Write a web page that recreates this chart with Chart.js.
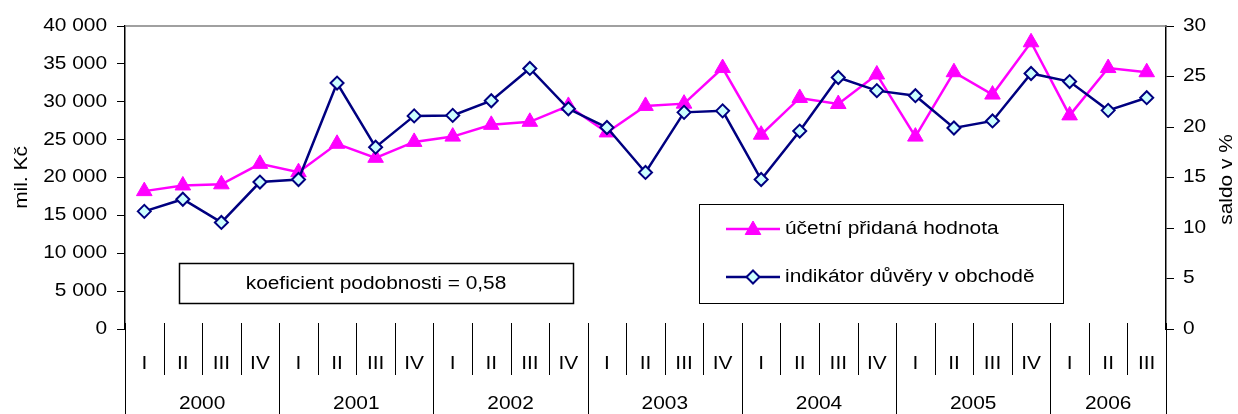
<!DOCTYPE html>
<html><head><meta charset="utf-8">
<script src="https://cdn.jsdelivr.net/npm/chart.js@4/dist/chart.umd.min.js"></script>
<style>html,body{margin:0;padding:0;background:#fff;overflow:hidden}#wrap{width:1238px;height:414px}</style>
</head><body><div id="wrap"><canvas id="c" width="1238" height="414"></canvas></div>
<script>
const quarters = ['I','II','III','IV','I','II','III','IV','I','II','III','IV','I','II','III','IV','I','II','III','IV','I','II','III','IV','I','II','III'];
const years = ['2000','2001','2002','2003','2004','2005','2006'];
const quartersPerYear = [4,4,4,4,4,4,3];
const valueAdded = [18200,18950,19100,21800,20700,24450,22600,24700,25400,26950,27350,29450,25950,29450,29750,34450,25650,30500,29700,33600,25400,33900,30950,37850,28200,34450,33900];
const confidence = [11.65,12.85,10.55,14.55,14.8,24.35,18.0,21.1,21.15,22.6,25.8,21.8,19.95,15.5,21.45,21.6,14.8,19.6,24.9,23.6,23.1,19.9,20.6,25.3,24.5,21.65,22.9];
const seriesNames = ['účetní přidaná hodnota','indikátor důvěry v obchodě'];
const leftTitle = 'mil. Kč';
const rightTitle = 'saldo v %';
const noteText = 'koeficient podobnosti = 0,58';

const FONT = '"Liberation Sans", Arial, sans-serif';
const FS = 18;
const SX = 1.16; // horizontal text stretch to match reference glyph widths
const PINK = '#FF00FF', NAVY = '#000080', CYAN = '#CCFFFF';

const fmt = v => String(v).replace(/\B(?=(\d{3})+(?!\d))/g, ' ');

const canvas = document.getElementById('c');
const c2d = canvas.getContext('2d');
const origFill = c2d.fillText;
c2d.fillText = function(t, x, y, mw) {
  this.save(); this.translate(x, y); this.scale(SX, 1);
  origFill.call(this, t, 0, 0);
  this.restore();
};

const extras = {
  id: 'extras',
  afterDraw(chart) {
    const ctx = chart.ctx, ca = chart.chartArea, xs = chart.scales.x;
    ctx.save();
    // top plot border
    ctx.strokeStyle = '#808080'; ctx.lineWidth = 1.5;
    ctx.beginPath(); ctx.moveTo(ca.left, ca.top); ctx.lineTo(ca.right, ca.top); ctx.stroke();
    // category separators
    ctx.strokeStyle = '#000'; ctx.lineWidth = 1;
    const n = quarters.length;
    const starts = new Set(); let acc = 0;
    quartersPerYear.forEach(q => { starts.add(acc); acc += q; });
    for (let i = 0; i <= n; i++) {
      let x;
      if (i === 0) x = ca.left; else if (i === n) x = ca.right;
      else x = (xs.getPixelForValue(i - 1) + xs.getPixelForValue(i)) / 2;
      x = Math.round(x) + 0.5;
      const isYear = i === 0 || i === n || starts.has(i);
      ctx.beginPath(); ctx.moveTo(x, ca.bottom - 6); ctx.lineTo(x, isYear ? 414 : ca.bottom + 46); ctx.stroke();
    }
    // year labels
    ctx.fillStyle = '#000'; ctx.font = FS + 'px ' + FONT; ctx.textAlign = 'center'; ctx.textBaseline = 'middle';
    acc = 0;
    years.forEach((y, k) => {
      const a = xs.getPixelForValue(acc), b = xs.getPixelForValue(acc + quartersPerYear[k] - 1);
      ctx.fillText(y, (a + b) / 2, 404);
      acc += quartersPerYear[k];
    });
    // axis titles
    const cy = (ca.top + ca.bottom) / 2;
    ctx.save(); ctx.translate(22, cy); ctx.rotate(-Math.PI / 2); ctx.fillText(leftTitle, 0, 0); ctx.restore();
    ctx.save(); ctx.translate(1227, cy + 2); ctx.rotate(-Math.PI / 2); ctx.fillText(rightTitle, 0, 0); ctx.restore();
    // note box
    ctx.fillStyle = '#fff'; ctx.fillRect(179, 263, 394, 40);
    ctx.strokeStyle = '#000'; ctx.lineWidth = 1.5; ctx.strokeRect(179.5, 263.5, 394, 40);
    ctx.fillStyle = '#000'; ctx.fillText(noteText, 376, 284);
    // legend
    ctx.fillStyle = '#fff'; ctx.fillRect(699, 204, 364, 99);
    ctx.strokeStyle = '#000'; ctx.lineWidth = 1; ctx.strokeRect(699.5, 204.5, 364, 99);
    const ds = chart.data.datasets;
    const rows = [229, 277];
    ds.forEach((d, k) => {
      const y = rows[k];
      ctx.strokeStyle = d.borderColor; ctx.lineWidth = d.borderWidth;
      ctx.beginPath(); ctx.moveTo(726, y); ctx.lineTo(780, y); ctx.stroke();
      ctx.fillStyle = d.pointBackgroundColor; ctx.strokeStyle = d.pointBorderColor; ctx.lineWidth = d.pointBorderWidth;
      Chart.helpers.drawPoint(ctx, {pointStyle: d.pointStyle, rotation: 0, borderWidth: d.pointBorderWidth, radius: d.pointRadius}, 753, y + (d.pointStyle === 'triangle' ? 1 : 0));
      ctx.fillStyle = '#000'; ctx.textAlign = 'left';
      ctx.fillText(d.label, 785, y);
    });
    ctx.restore();
  }
};

new Chart(canvas, {
  type: 'line',
  data: {
    labels: quarters,
    datasets: [
      {label: seriesNames[0], data: valueAdded, yAxisID: 'y', order: 2,
       borderColor: PINK, backgroundColor: PINK, borderWidth: 2.5, tension: 0,
       pointStyle: 'triangle', pointRadius: 9, pointBackgroundColor: PINK, pointBorderColor: PINK, pointBorderWidth: 1},
      {label: seriesNames[1], data: confidence, yAxisID: 'y1', order: 1,
       borderColor: NAVY, backgroundColor: NAVY, borderWidth: 2.5, tension: 0,
       pointStyle: 'rectRot', pointRadius: 6.5, pointBackgroundColor: CYAN, pointBorderColor: NAVY, pointBorderWidth: 2}
    ]
  },
  options: {
    responsive: false, animation: false, devicePixelRatio: 1,
    layout: {padding: {top: 26, left: 0, right: 0, bottom: 0}},
    plugins: {legend: {display: false}, tooltip: {enabled: false}},
    scales: {
      x: {
        type: 'category', offset: true,
        grid: {display: false}, border: {display: false},
        ticks: {color: '#000', font: {family: FONT, size: FS}, padding: 16, maxRotation: 0, autoSkip: false},
        afterFit(s) { s.height = 85; }
      },
      y: {
        position: 'left', min: 0, max: 40000,
        ticks: {stepSize: 5000, color: '#000', font: {family: FONT, size: FS}, padding: 10, callback: v => fmt(v)},
        grid: {drawOnChartArea: false, tickLength: 8, color: '#000', lineWidth: 1},
        border: {color: '#000', width: 1.5},
        afterFit(s) { s.width = 125; }
      },
      y1: {
        position: 'right', min: 0, max: 30,
        ticks: {stepSize: 5, color: '#000', font: {family: FONT, size: FS}, padding: 9},
        grid: {drawOnChartArea: false, tickLength: 8, color: '#000', lineWidth: 1},
        border: {color: '#000', width: 1.5},
        afterFit(s) { s.width = 72; }
      }
    }
  },
  plugins: [extras]
});
</script></body></html>
